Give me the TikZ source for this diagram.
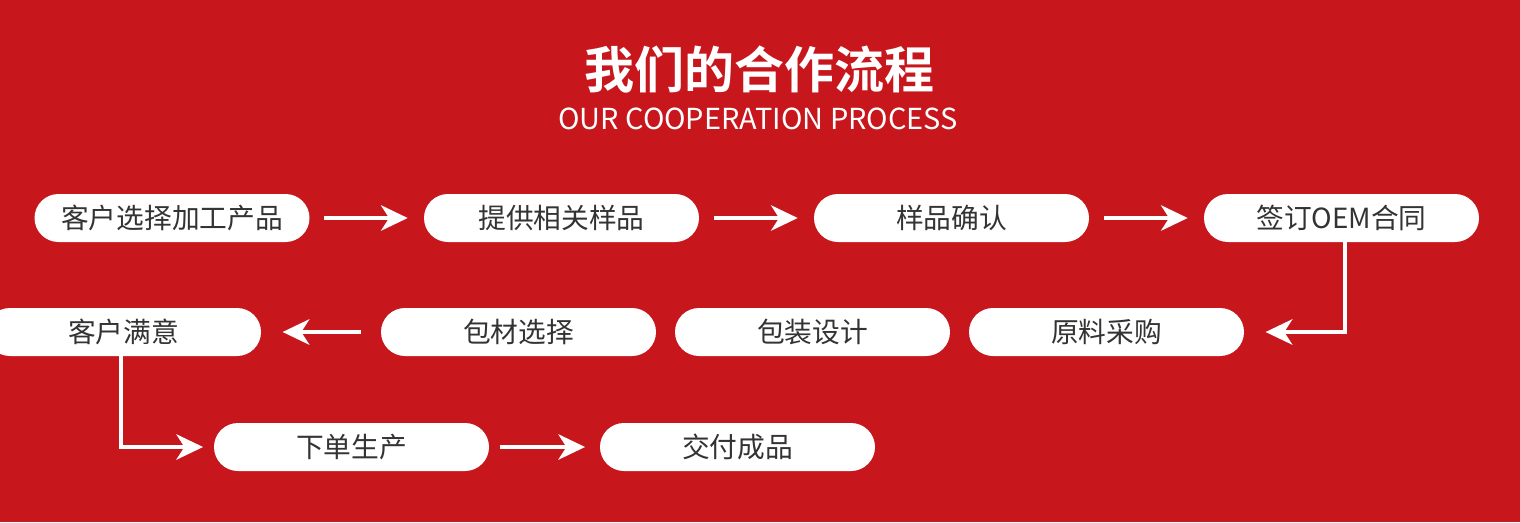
\documentclass[tikz,border=0pt]{standalone}
\usepackage{fontspec}
\setmainfont{Noto Sans CJK SC}
\newfontfamily\cjkbold{Noto Sans CJK SC Bold}
\usetikzlibrary{arrows.meta}
\definecolor{bgred}{HTML}{C8161D}
\definecolor{txtgray}{HTML}{333333}
\tikzset{
  pill/.style={draw=none, fill=white, rectangle, rounded corners=18pt,
    minimum width=206.25pt, minimum height=36pt, inner sep=0pt,
    text=txtgray, font=\fontsize{20.8}{24}\selectfont},
  arr/.style={draw=white, line width=3pt,
    -{Stealth[length=20pt, width=19pt, inset=6pt]}},
  gap/.style={shorten <=11pt, shorten >=12pt},
}
\begin{document}
\begin{tikzpicture}[x=0.75pt, y=-0.75pt]
\fill[bgred] (0,0) rectangle (1520,522);
\useasboundingbox (0,0) rectangle (1520,522);
\node[text=white, font=\cjkbold\fontsize{37.5}{40}\selectfont] (title) at (759,69) {我们的合作流程};
\node[text=white, font=\fontsize{21.7}{26}\selectfont] (sub) at (758,119) {OUR COOPERATION PROCESS};
% row 1
\node[pill] (p1) at (172,218) {客户选择加工产品};
\node[pill] (p2) at (561.5,218) {提供相关样品};
\node[pill] (p3) at (951.5,218) {样品确认};
\node[pill] (p4) at (1341.5,218) {签订OEM合同};
% row 2
\node[pill] (p9) at (123.5,332) {客户满意};
\node[pill] (p7) at (518.5,332) {包材选择};
\node[pill] (p6) at (812.5,332) {包装设计};
\node[pill] (p5) at (1106.5,332) {原料采购};
% row 3
\node[pill] (p10) at (351.5,447) {下单生产};
\node[pill] (p11) at (737.5,447) {交付成品};
% connectors
\draw[arr, gap] (p1) -- (p2);
\draw[arr, gap] (p2) -- (p3);
\draw[arr, gap] (p3) -- (p4);
\draw[arr, shorten >=16pt] ([xshift=2.6pt]p4.south) |- (p5);
\draw[arr, shorten <=15pt, shorten >=16pt] (p7) -- (p9);
\draw[arr, shorten >=8pt] ([xshift=-1.9pt]p9.south) |- (p10);
\draw[arr, shorten <=8pt, shorten >=11pt] (p10) -- (p11);
\end{tikzpicture}
\end{document}
